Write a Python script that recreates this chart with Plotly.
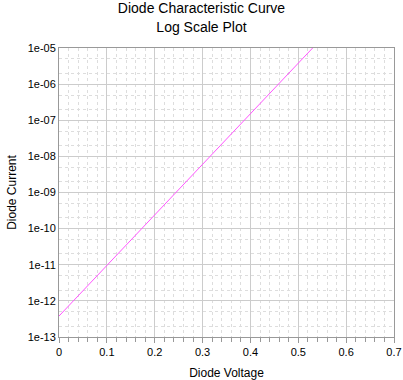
import plotly.graph_objects as go

voltage = [0.0, 0.1, 0.2, 0.3, 0.4, 0.5, 0.6, 0.7]
current = [3.8e-13, 9.5e-12, 2.4e-10, 6.0e-9, 1.5e-7, 3.8e-6, 9.5e-5, 2.4e-3]

y_tickvals = [1e-13, 1e-12, 1e-11, 1e-10, 1e-9, 1e-8, 1e-7, 1e-6, 1e-5]
y_ticktext = ["1e-13", "1e-12", "1e-11", "1e-10", "1e-09", "1e-08", "1e-07", "1e-06", "1e-05"]
x_tickvals = [0, 0.1, 0.2, 0.3, 0.4, 0.5, 0.6, 0.7]
x_ticktext = ["0", "0.1", "0.2", "0.3", "0.4", "0.5", "0.6", "0.7"]

fig = go.Figure()
fig.add_trace(go.Scatter(x=voltage, y=current, mode="lines",
                         line=dict(color="#ff55ff", width=1), showlegend=False))

fig.update_layout(
    width=403, height=380,
    margin=dict(l=59, r=9, t=48, b=43),
    paper_bgcolor="white", plot_bgcolor="white",
    font=dict(family="Liberation Sans, Arial, sans-serif", size=11, color="#000"),
    title=dict(text="Diode Characteristic Curve<br>Log Scale Plot", x=0.5, xanchor="center",
               xref="container", y=0.965, yanchor="middle", font=dict(size=14)),
)
fig.update_xaxes(
    range=[0, 0.7], tickvals=x_tickvals, ticktext=x_ticktext,
    showgrid=True, gridcolor="#cccccc", gridwidth=1,
    showline=True, linecolor="#999", mirror=True, ticks="outside", ticklen=5, tickcolor="#999",
    minor=dict(dtick=0.02, showgrid=True, gridcolor="#dddddd", griddash="dot",
               ticks="outside", ticklen=4, tickcolor="#999"),
    zeroline=False, automargin=False,
    title=dict(text="Diode Voltage", font=dict(size=12), standoff=14),
    tickfont=dict(size=11),
)
fig.update_yaxes(
    type="log", range=[-13, -5], tickvals=y_tickvals, ticktext=y_ticktext,
    showgrid=True, gridcolor="#cccccc", gridwidth=1,
    showline=True, linecolor="#999", mirror=True, ticks="",
    minor=dict(showgrid=True, gridcolor="#dddddd", griddash="dot", ticks=""),
    zeroline=False, automargin=False,
    title=dict(text="Diode Current", font=dict(size=12), standoff=8),
    tickfont=dict(size=11),
)

fig.write_html("out.html", config={"displayModeBar": False},
               post_script="document.body.style.margin='0';")
